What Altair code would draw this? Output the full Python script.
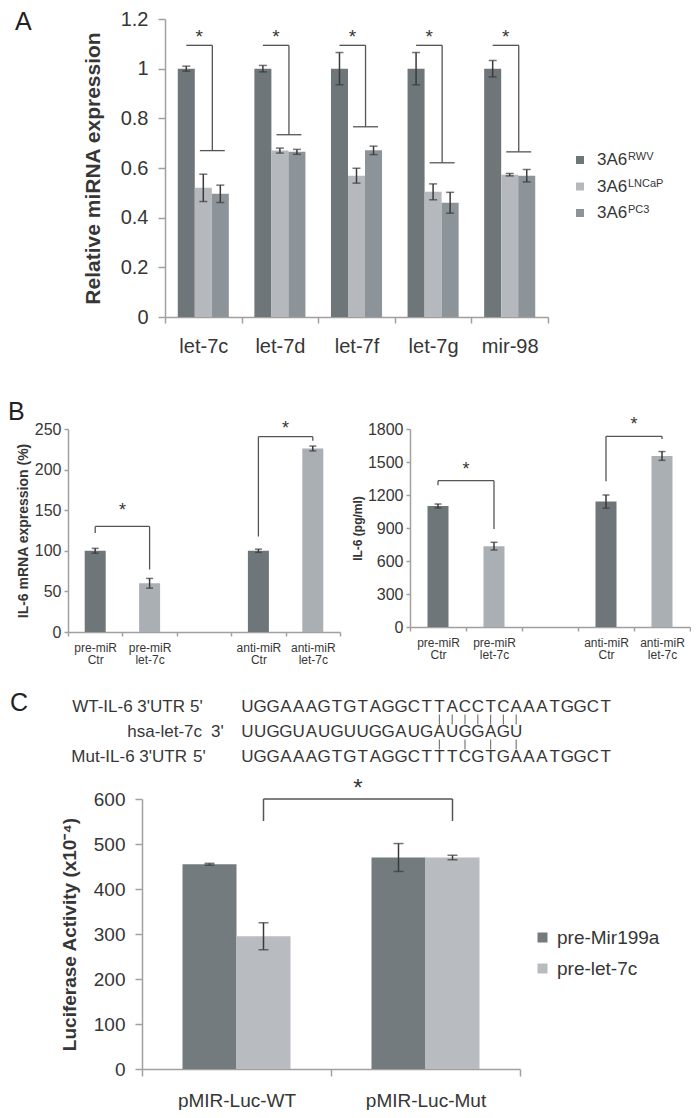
import altair as alt
import pandas as pd

FONT = "Liberation Sans, Arial, Helvetica, sans-serif"
NARROW = "Liberation Sans Narrow, Arial Narrow, Liberation Sans, Arial, sans-serif"
TXT = "#363636"
AXC = "#a0a0a0"
INK = "#3a3a3a"
BRK = "#555555"

# ---------------- Panel A data ----------------
a_mirna = ["let-7c", "let-7d", "let-7f", "let-7g", "mir-98"]
a_groups = ["RWV", "LNCaP", "PC3"]
a_rwv = [1.0, 1.0, 1.0, 1.0, 1.0]
a_rwv_err = [0.01, 0.013, 0.065, 0.065, 0.033]
a_lncap = [0.52, 0.67, 0.569, 0.504, 0.573]
a_lncap_err = [0.055, 0.01, 0.03, 0.032, 0.005]
a_pc3 = [0.496, 0.665, 0.671, 0.46, 0.569]
a_pc3_err = [0.035, 0.01, 0.017, 0.042, 0.025]
a_sig_top = [1.094, 1.094, 1.094, 1.094, 1.094]
a_sig_low = [0.67, 0.734, 0.766, 0.621, 0.665]
a_star = [1.145, 1.145, 1.145, 1.145, 1.145]
a_colors = ["#6e7679", "#b5b9bd", "#8d9499"]

# ---------------- Panel B data ----------------
b_cats = ["pre-miR Ctr", "pre-miR let-7c", " ", "anti-miR Ctr", "anti-miR let-7c"]
b_bar_cats = ["pre-miR Ctr", "pre-miR let-7c", "anti-miR Ctr", "anti-miR let-7c"]
b_kind = ["Ctr", "let-7c", "Ctr", "let-7c"]
b_colors = ["#6e7679", "#aaafb4"]
b_sig_pairs = [(0, 1), (3, 4)]
b_mrna = [100, 60, 100, 226]
b_mrna_err = [3, 6, 2, 3]
b_mrna_sig_top = [130, 240.6]
b_mrna_sig_left = [122, 117.6]
b_mrna_sig_right = [77, 235.6]
b_mrna_star = [154, 255]
b_il6 = [1100, 735, 1140, 1555]
b_il6_err = [18, 35, 60, 40]
b_il6_sig_top = [1330, 1733]
b_il6_sig_left = [1288, 1324]
b_il6_sig_right = [891, 1709]
b_il6_star = [1467, 1876]

# ---------------- Panel C data ----------------
wt_seq = "UGGAAAGTGTAGGCTTACCTCAAATGGCT"
hsa_seq = "UUGGUAUGUUGGAUGAUGGAGU"
mut_seq = "UGGAAAGTGTAGGCTTTCGTGAAATGGCT"
wt_pairs = [15, 16, 17, 18, 19, 20, 21]
mut_pairs = [15, 17, 19, 21]
c_constructs = ["pMIR-Luc-WT", "pMIR-Luc-Mut"]
c_treat = ["pre-Mir199a", "pre-let-7c"]
c_mir199 = [455, 470]
c_mir199_err = [2, 31]
c_let7 = [295, 470]
c_let7_err = [30, 5]
c_sig_top = 600
c_sig_low = [551, 551]
c_star = 633
c_colors = ["#737b7e", "#b8bcc0"]

# ---------------- canvas / layout (pixels) ----------------
W, H = 683, 1102
A_X, A_Y = (157, 540), (309, 11)
B1_X, B1_Y = (60, 332), (624, 421)
B2_X, B2_Y = (402, 682), (619, 421)
C_X, C_Y = (134, 512), (1061, 791)
SEQ_X0, SEQ_STEP, SEQ_Y = 239.4, 12.8, (693, 755)


def yaxis(title, values, fs, tfs, tsize, lpad, tpad, xpos, fmt=None):
    kw = dict(title=title, values=values, orient="left", offset=-xpos, labelFontSize=fs, labelFont=FONT,
              labelColor=TXT, titleFontSize=tfs, titleFont=FONT, titleFontWeight="bold", titleColor=TXT,
              tickSize=tsize, labelPadding=lpad, titlePadding=tpad, domainColor=AXC,
              tickColor=AXC, domainWidth=1.5, tickWidth=1.5, grid=False)
    if fmt:
        kw["format"] = fmt
    return alt.Axis(**kw)


def xaxis(fs, tsize, lpad, ypos, font=FONT, expr=None, lh=None):
    kw = dict(title=None, orient="bottom", offset=ypos - H, labelAngle=0, labelFontSize=fs, labelFont=font,
              labelColor=TXT, tickSize=tsize, labelPadding=lpad, tickBand="extent", domainColor=AXC,
              tickColor=AXC, domainWidth=1.5, tickWidth=1.5, grid=False, labelOverlap=False)
    if expr:
        kw["labelExpr"] = expr
    if lh:
        kw["labelLineHeight"] = lh
    return alt.Axis(**kw)


one = pd.DataFrame({"k": [0]})


def letter(t, x, y, baseline):
    return alt.Chart(one).mark_text(text=t, fontSize=25, font=FONT, color="#222", align="left",
                                    baseline=baseline).encode(x=alt.value(x), y=alt.value(y))


def sig_layers(h, v, s, xrange, ydom, yrange, nb, fs, dy, sw):
    xq = alt.X("x:Q", scale=alt.Scale(domain=[0, nb], range=list(xrange), nice=False, zero=False), axis=None)
    yq = alt.Y("y:Q", scale=alt.Scale(domain=ydom, range=list(yrange), nice=False, zero=False), axis=None)
    return alt.layer(
        alt.Chart(pd.DataFrame(h)).mark_rule(color=BRK, strokeWidth=sw).encode(x=xq, x2="x2:Q", y=yq),
        alt.Chart(pd.DataFrame(v)).mark_rule(color=BRK, strokeWidth=sw).encode(x=xq, y=yq, y2="y2:Q"),
        alt.Chart(pd.DataFrame(s)).mark_text(text="*", fontSize=fs, font=FONT, color=TXT,
                                             baseline="middle", dy=dy).encode(x=xq, y=yq),
    )


# ================= Panel A =================
rowsA = []
for i, m in enumerate(a_mirna):
    for g, v, e in zip(a_groups, (a_rwv, a_lncap, a_pc3), (a_rwv_err, a_lncap_err, a_pc3_err)):
        rowsA.append({"mirna": m, "group": g, "value": v[i], "lo": v[i] - e[i], "hi": v[i] + e[i]})
dfA = pd.DataFrame(rowsA)

A_TITLE = "Relative miRNA expression"
A_BAND = (A_X[1] - A_X[0]) / len(a_mirna)
xA = alt.X("mirna:N", sort=a_mirna,
           scale=alt.Scale(domain=a_mirna, range=list(A_X), paddingInner=0, paddingOuter=0),
           axis=xaxis(20, 6, 13, A_Y[0]))
xoA = alt.XOffset("group:N", sort=a_groups,
                  scale=alt.Scale(domain=a_groups, range=[0, A_BAND], paddingOuter=0.75, paddingInner=0))
ysA = alt.Scale(domain=[0, 1.2], range=list(A_Y), nice=False)
yA = alt.Y("value:Q", scale=ysA,
           axis=yaxis(A_TITLE, [0, 0.2, 0.4, 0.6, 0.8, 1.0, 1.2], 20, 21, 7, 10, 17, A_X[0], fmt="~g"))
colA = alt.Color("group:N", sort=a_groups, scale=alt.Scale(domain=a_groups, range=a_colors), legend=None)

A_main = alt.layer(
    alt.Chart(dfA).mark_bar().encode(x=xA, xOffset=xoA, y=yA, color=colA),
    alt.Chart(dfA).mark_rule(color=INK, strokeWidth=1.5).encode(
        x=xA, xOffset=xoA, y=alt.Y("lo:Q", scale=ysA, title=A_TITLE), y2="hi:Q"),
    alt.Chart(dfA).mark_tick(color=INK, thickness=1.5, size=8).encode(
        x=xA, xOffset=xoA, y=alt.Y("lo:Q", scale=ysA, title=A_TITLE)),
    alt.Chart(dfA).mark_tick(color=INK, thickness=1.5, size=8).encode(
        x=xA, xOffset=xoA, y=alt.Y("hi:Q", scale=ysA, title=A_TITLE)),
)

A_STEP = 1 / (3 + 2 * 0.75)
hA, vA, sA = [], [], []
for i in range(len(a_mirna)):
    c = i + 0.5
    xv = c + 0.118
    hA.append({"x": c - A_STEP, "x2": xv, "y": a_sig_top[i]})
    hA.append({"x": xv - 0.163, "x2": xv + 0.163, "y": a_sig_low[i]})
    vA.append({"x": xv, "y": a_sig_top[i], "y2": a_sig_low[i]})
    sA.append({"x": (c - A_STEP + xv) / 2, "y": a_star[i]})
A_sig = sig_layers(hA, vA, sA, A_X, [0, 1.2], A_Y, 5, 19, 4, 1.3)

legA = pd.DataFrame({"group": a_groups, "name": ["3A6"] * 3, "sup": a_groups})
lyA = alt.Y("group:N", sort=a_groups, scale=alt.Scale(domain=a_groups, range=[152, 205], padding=0), axis=None)
A_leg = alt.layer(
    alt.Chart(legA).mark_square(size=64, opacity=1).encode(x=alt.value(572), y=lyA, color=colA),
    alt.Chart(legA).mark_text(align="left", baseline="middle", fontSize=17, font=FONT, color=TXT).encode(
        x=alt.value(589), y=lyA, text="name:N"),
    alt.Chart(legA).mark_text(align="left", baseline="alphabetic", fontSize=11, font=FONT, color=TXT).encode(
        x=alt.value(620), y=lyA, text="sup:N"),
)


# ================= Panel B =================
def panel_b(values, errs, tops, lefts, rights, stars, ymax, yvalues, title, XR, YR, tfs, tpad):
    df = pd.DataFrame({"cat": b_bar_cats, "kind": b_kind, "value": values,
                       "lo": [v - e for v, e in zip(values, errs)],
                       "hi": [v + e for v, e in zip(values, errs)]})
    x = alt.X("cat:N", sort=b_cats,
              scale=alt.Scale(domain=b_cats, range=list(XR), paddingInner=0, paddingOuter=0),
              axis=xaxis(12, 4, 6, YR[0], font=NARROW, expr="split(datum.label, ' ')", lh=12))
    ys = alt.Scale(domain=[0, ymax], range=list(YR), nice=False)
    y = alt.Y("value:Q", scale=ys, axis=yaxis(title, yvalues, 16, tfs, 4, 3, tpad, XR[0], fmt="d"))
    col = alt.Color("kind:N", scale=alt.Scale(domain=["Ctr", "let-7c"], range=b_colors), legend=None)
    main = alt.layer(
        alt.Chart(df).mark_bar(size=21).encode(x=x, y=y, color=col),
        alt.Chart(df).mark_rule(color=INK, strokeWidth=1.5).encode(
            x=x, y=alt.Y("lo:Q", scale=ys, title=title), y2="hi:Q"),
        alt.Chart(df).mark_tick(color=INK, thickness=1.5, size=7).encode(
            x=x, y=alt.Y("lo:Q", scale=ys, title=title)),
        alt.Chart(df).mark_tick(color=INK, thickness=1.5, size=7).encode(
            x=x, y=alt.Y("hi:Q", scale=ys, title=title)),
    )
    h, v, s = [], [], []
    for (a, b), t, l, r, st in zip(b_sig_pairs, tops, lefts, rights, stars):
        xa, xb = a + 0.5, b + 0.5
        h.append({"x": xa, "x2": xb, "y": t})
        v.append({"x": xa, "y": t, "y2": l})
        v.append({"x": xb, "y": t, "y2": r})
        s.append({"x": (xa + xb) / 2, "y": st})
    sig = sig_layers(h, v, s, XR, [0, ymax], YR, 5, 18, 4, 1.3)
    return main, sig


B1_main, B1_sig = panel_b(b_mrna, b_mrna_err, b_mrna_sig_top, b_mrna_sig_left, b_mrna_sig_right, b_mrna_star,
                          250, [0, 50, 100, 150, 200, 250], "IL-6 mRNA expression (%)", B1_X, B1_Y, 14, 4)
B2_main, B2_sig = panel_b(b_il6, b_il6_err, b_il6_sig_top, b_il6_sig_left, b_il6_sig_right, b_il6_star,
                          1800, [0, 300, 600, 900, 1200, 1500, 1800], "IL-6 (pg/ml)", B2_X, B2_Y, 12, 3)

# ================= Panel C : sequences =================
seq_rows = ["WT", "p1", "hsa", "p2", "Mut"]
chars = []
for row, seq in (("WT", wt_seq), ("hsa", hsa_seq), ("Mut", mut_seq)):
    for i, ch in enumerate(seq):
        chars.append({"row": row, "i": i, "ch": ch})
pipes = [{"row": "p1", "i": i} for i in wt_pairs] + [{"row": "p2", "i": i} for i in mut_pairs]

xS = alt.X("i:Q", scale=alt.Scale(domain=[0, 28], range=[SEQ_X0, SEQ_X0 + 28 * SEQ_STEP], nice=False,
                                  zero=False), axis=None)
yS = alt.Y("row:N", sort=seq_rows, scale=alt.Scale(domain=seq_rows, range=list(SEQ_Y), padding=0), axis=None)
seq_labels = pd.DataFrame({"row": ["WT", "hsa", "Mut"],
                           "name": ["WT-IL-6 3'UTR", "hsa-let-7c", "Mut-IL-6 3'UTR"],
                           "end": ["5'", "3'", "5'"]})


def seq_text(row, field, xpx, align):
    return alt.Chart(seq_labels[seq_labels.row == row]).mark_text(
        align=align, baseline="middle", fontSize=17, font=FONT, color=TXT).encode(
        x=alt.value(xpx), y=yS, text=f"{field}:N")


SEQ = alt.layer(
    alt.Chart(pd.DataFrame(chars)).mark_text(baseline="middle", fontSize=17, font=FONT, color=TXT).encode(
        x=xS, y=yS, text="ch:N"),
    alt.Chart(pd.DataFrame(pipes)).mark_tick(color="#444", thickness=1.2, size=10).encode(x=xS, y=yS),
    seq_text("WT", "name", 177, "right"), seq_text("WT", "end", 182, "left"),
    seq_text("hsa", "name", 194, "right"), seq_text("hsa", "end", 203, "left"),
    seq_text("Mut", "name", 179, "right"), seq_text("Mut", "end", 185, "left"),
)

# ================= Panel C : luciferase =================
rowsC = []
for i, cst in enumerate(c_constructs):
    for t, v, e in zip(c_treat, (c_mir199, c_let7), (c_mir199_err, c_let7_err)):
        rowsC.append({"construct": cst, "treat": t, "value": v[i], "lo": v[i] - e[i], "hi": v[i] + e[i]})
dfC = pd.DataFrame(rowsC)
C_TITLE = "Luciferase Activity (x10\u207b\u2074)"
C_BAND = (C_X[1] - C_X[0]) / len(c_constructs)
xC = alt.X("construct:N", sort=c_constructs,
           scale=alt.Scale(domain=c_constructs, range=list(C_X), paddingInner=0, paddingOuter=0),
           axis=xaxis(19, 7, 15, C_Y[0]))
xoC = alt.XOffset("treat:N", sort=c_treat,
                  scale=alt.Scale(domain=c_treat, range=[0, C_BAND], paddingOuter=0.75, paddingInner=0))
ysC = alt.Scale(domain=[0, 600], range=list(C_Y), nice=False)
yC = alt.Y("value:Q", scale=ysC,
           axis=yaxis(C_TITLE, [0, 100, 200, 300, 400, 500, 600], 19, 19, 7, 10, 14, C_X[0]))
colC = alt.Color("treat:N", sort=c_treat, scale=alt.Scale(domain=c_treat, range=c_colors),
                 legend=alt.Legend(orient="none", legendX=525, legendY=920, title=None, symbolType="square",
                                   symbolSize=100, symbolStrokeWidth=0, labelFontSize=19, labelFont=FONT,
                                   labelColor=TXT, rowPadding=11, labelOffset=5, padding=0))
C_main = alt.layer(
    alt.Chart(dfC).mark_bar().encode(x=xC, xOffset=xoC, y=yC, color=colC),
    alt.Chart(dfC).mark_rule(color=INK, strokeWidth=1.5).encode(
        x=xC, xOffset=xoC, y=alt.Y("lo:Q", scale=ysC, title=C_TITLE), y2="hi:Q"),
    alt.Chart(dfC).mark_tick(color=INK, thickness=1.5, size=10).encode(
        x=xC, xOffset=xoC, y=alt.Y("lo:Q", scale=ysC, title=C_TITLE)),
    alt.Chart(dfC).mark_tick(color=INK, thickness=1.5, size=10).encode(
        x=xC, xOffset=xoC, y=alt.Y("hi:Q", scale=ysC, title=C_TITLE)),
)
C_STEP = 1 / (2 + 2 * 0.75)
xl, xr = 0.5 + C_STEP / 2, 1.5 + C_STEP / 2
C_sig = sig_layers([{"x": xl, "x2": xr, "y": c_sig_top}],
                   [{"x": xl, "y": c_sig_top, "y2": c_sig_low[0]}, {"x": xr, "y": c_sig_top, "y2": c_sig_low[1]}],
                   [{"x": (xl + xr) / 2, "y": c_star}], C_X, [0, 600], C_Y, 2, 24, 5, 1.5)

LETTERS = alt.layer(letter("A", 7, 2, "top"), letter("B", 0, 412, "alphabetic"),
                    letter("C", 2, 695, "middle"))

chart = alt.layer(A_main, A_sig, A_leg, B1_main, B1_sig, B2_main, B2_sig, SEQ, C_main, C_sig, LETTERS).resolve_scale(
    x="independent", y="independent", color="independent", xOffset="independent").properties(
    width=W, height=H, padding=0).configure_view(stroke=None)

chart.save("out.html", embed_options={"renderer": "svg", "actions": False})
